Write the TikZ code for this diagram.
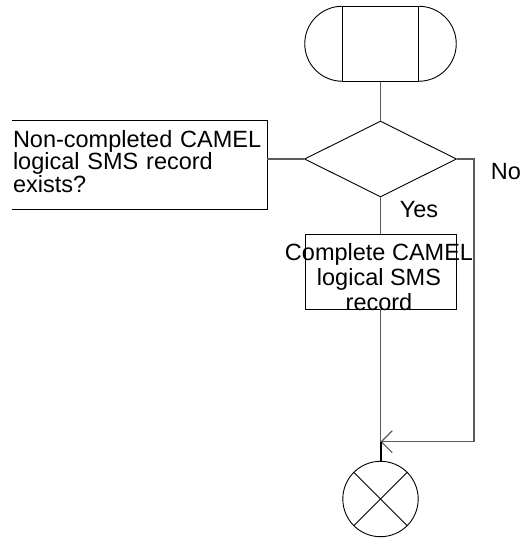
\documentclass[tikz,border=0pt]{standalone}
\usepackage{fontspec}
\setmainfont{Liberation Sans}
\usetikzlibrary{shapes.geometric,arrows.meta}
\definecolor{conn}{HTML}{5A5A5A}
\tikzset{
  shapeline/.style={draw=black, line width=0.9pt},
  connline/.style={draw=conn, line width=1.1pt},
  lbl/.style={font=\fontsize{23.5}{25}\selectfont, inner sep=0pt},
}
\begin{document}
\begin{tikzpicture}[x=1pt,y=-1pt]
\useasboundingbox (0,0) rectangle (525,538);
% start terminal
\node[shapeline, rectangle, minimum width=75.6pt, minimum height=75pt, inner sep=0pt] (term) at (380.5,44.2) {};
\draw[shapeline] (term.north west) arc[start angle=90, end angle=270, radius=37.5pt];
\draw[shapeline] (term.north east) arc[start angle=90, end angle=-90, radius=37.5pt];
% decision
\node[shapeline, diamond, minimum width=152pt, minimum height=76pt, inner sep=0pt] (dec) at (380.5,159) {};
% annotation box (open on the left)
\node[minimum width=255pt, minimum height=88.3pt, inner sep=0pt] (ann) at (139.5,164.8) {};
\draw[shapeline] (ann.north west) -- (ann.north east) -- (ann.south east) -- (ann.south west);
\node[lbl, font=\fontsize{23.5}{22.7}\selectfont, text width=250pt, align=left] (anntxt) at (138,161.4)
  {Non-completed CAMEL\\logical SMS record\\exists?};
% task box
\node[shapeline, rectangle, minimum width=151pt, minimum height=75pt, inner sep=0pt] (task) at (380.5,271.5) {};
\node[lbl, align=center] (tasktxt) at (379,277.5) {Complete CAMEL\\logical SMS\\record};
% end
\node[shapeline, circle, minimum size=75.4pt, inner sep=0pt] (endc) at (380.5,499) {};
\draw[shapeline] (endc.north west) -- (endc.south east);
\draw[shapeline] (endc.north east) -- (endc.south west);
% labels
\node[lbl] (no) at (506,172) {No};
\node[lbl] (yes) at (419,210) {Yes};
% coordinates
\coordinate (nr) at (474,159);
\coordinate (nb) at (474,441.7);
\coordinate (j) at (380.5,441.7);
% connectors
\draw[connline] (term.south) -- (dec.north);
\draw[connline] (dec.west -| ann.east) -- (dec.west);
\draw[connline] (dec.south) -- (task.north);
\draw[connline] (task.south) -- (j);
\draw[connline, -{Straight Barb[length=11pt, width=22pt, line width=1.1pt]}] (dec.east) -- (nr) -- (nb) -- (j);
\draw[draw=black, line width=2pt] (j) -- (endc.north);
\end{tikzpicture}
\end{document}
